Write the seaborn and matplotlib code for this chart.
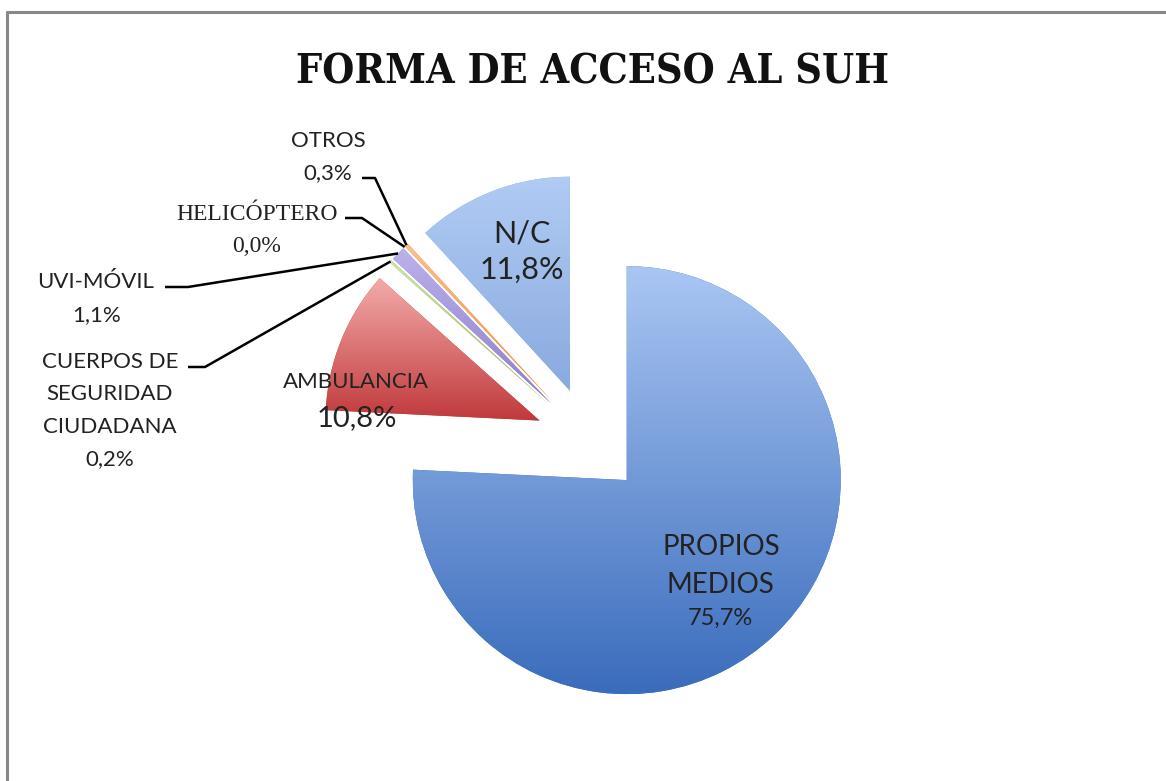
import numpy as np
import matplotlib
matplotlib.use("Agg")
import matplotlib.pyplot as plt
import seaborn as sns
from matplotlib.colors import LinearSegmentedColormap

# Data
categories = ["PROPIOS\nMEDIOS", "AMBULANCIA", "CUERPOS DE\nSEGURIDAD\nCIUDADANA",
              "UVI-MÓVIL", "HELICÓPTERO", "OTROS", "N/C"]
values = [75.7, 10.8, 0.2, 1.1, 0.0, 0.3, 11.8]
pct_labels = [f"{v:.1f}".replace(".", ",") + "%" for v in values]

# gradient colours per slice (top, bottom)
grad_colors = [("#aac6f3", "#3a6cbc"),
               ("#f3abab", "#c0393b"),
               ("#cfe3a8", "#9cbc68"),
               ("#bcb2ea", "#8c7dcb"),
               ("#a6dcea", "#5fb2c9"),
               ("#fbc08a", "#ee8e3c"),
               ("#b0cbf4", "#8aa9de")]

W, H = 1166, 781
sns.set_theme(style="white")
plt.rcParams["font.family"] = ["Lato", "DejaVu Sans"]

fig = plt.figure(figsize=(W / 100, H / 100), dpi=100)
ax = fig.add_axes([0, 0, 1, 1])

def iy(y):
    return H - y

R = 214
# matplotlib's explode is in data units, so 54 px offset for every slice
wedges, _ = ax.pie(values, radius=R, center=(589.5, iy(441)), startangle=90,
                   counterclock=False, explode=[54] * len(values),
                   colors=[c[1] for c in grad_colors],
                   wedgeprops=dict(linewidth=0))

# vertical gradient inside each slice
for w, (top, bot), v in zip(wedges, grad_colors, values):
    if v <= 0:
        continue
    ext = w.get_path().get_extents()
    cmap = LinearSegmentedColormap.from_list("g", [bot, top])
    grad = np.linspace(0, 1, 256).reshape(-1, 1)
    im = ax.imshow(grad, cmap=cmap, origin="lower", aspect="auto",
                   extent=[ext.x0, ext.x1, ext.y0, ext.y1], zorder=w.get_zorder())
    im.set_clip_path(w)

ax.set_xlim(0, W)
ax.set_ylim(0, H)
ax.set_axis_off()

def outer_mid(w):
    t = np.deg2rad((w.theta1 + w.theta2) / 2)
    cx, cy = w.center
    return cx + w.r * np.cos(t), cy + w.r * np.sin(t)

txt = dict(color="#222222", ha="center", va="center")

# labels inside slices
ax.text(721, iy(547), "PROPIOS", fontsize=20, **txt)
ax.text(720, iy(585), "MEDIOS", fontsize=20, **txt)
ax.text(720, iy(618), pct_labels[0], fontsize=17, **txt)
ax.text(356, iy(382), categories[1], fontsize=16, **txt)
ax.text(357, iy(418), pct_labels[1], fontsize=21, **txt)
ax.text(522, iy(233), categories[6], fontsize=22, **txt)
ax.text(522, iy(270), pct_labels[6], fontsize=22, **txt)

# outside labels with leader lines
ax.text(328, iy(141), categories[5], fontsize=16, **txt)
ax.text(328, iy(173), pct_labels[5], fontsize=16, **txt)
ax.text(257, iy(214), categories[4], fontsize=17, family=["Liberation Serif"], **txt)
ax.text(257, iy(247), pct_labels[4], fontsize=17, family=["Liberation Serif"], **txt)
ax.text(96, iy(282), categories[3], fontsize=16, **txt)
ax.text(97, iy(315), pct_labels[3], fontsize=16, **txt)
for k, line in enumerate(categories[2].split("\n") + [pct_labels[2]]):
    ax.text(110, iy(362 + 32.5 * k), line, fontsize=16, **txt)

leaders = [(5, 362, 375, 178), (4, 345, 362, 218), (3, 165, 188, 287), (2, 188, 205, 367)]
for idx, x0, x1, y in leaders:
    ex, ey = outer_mid(wedges[idx])
    ax.plot([x0, x1, ex], [iy(y), iy(y), ey], color="black", lw=1.8,
            solid_capstyle="butt", zorder=5)

# title
ax.text(592, iy(72), "FORMA DE ACCESO AL SUH", fontsize=29.5, fontweight="bold",
        family=["DejaVu Serif"], fontstretch="condensed", color="#111111",
        ha="center", va="center")

# chart frame (cropped)
ax.plot([7, 7], [0, iy(12)], color="#888888", lw=2.2, clip_on=False)
ax.plot([7, W], [iy(12), iy(12)], color="#888888", lw=2.2, clip_on=False)

fig.savefig("out.png", dpi=100)
